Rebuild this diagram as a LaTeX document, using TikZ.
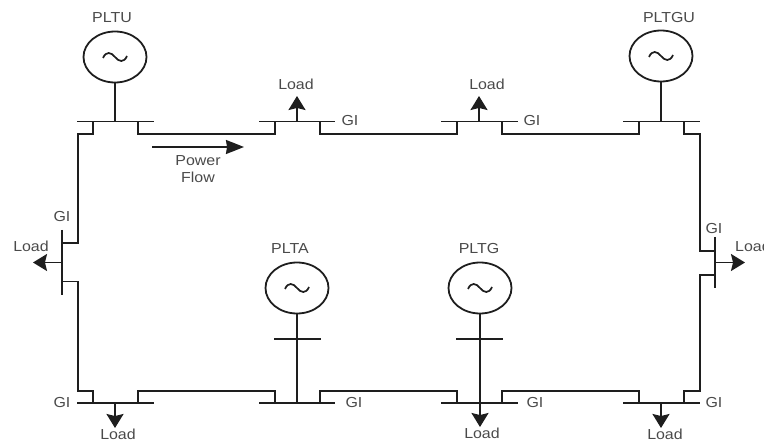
\documentclass[tikz,border=0pt]{standalone}
\usepackage{fontspec}
\setmainfont[FakeStretch=1.1]{Liberation Sans}
\usetikzlibrary{arrows.meta,shapes.geometric}
\definecolor{ink}{HTML}{1E1E1E}
\definecolor{lab}{HTML}{4A4A4A}
\newcommand{\acwave}[1]{\draw[wire,shift={(#1)}] (-12,1) .. controls (-9,-6) and (-4,-5) .. (0,0) .. controls (4,5) and (9,6) .. (12,-1);}
\tikzset{
  wire/.style={draw=ink,line width=1.7pt},
  bus/.style={draw=ink,line width=1.7pt},
  loadarrow/.style={wire,-{Stealth[length=14pt,width=17pt,inset=2pt]}},
  flowarrow/.style={wire,-{Stealth[length=18pt,width=14pt,inset=1pt]}},
  gen/.style={draw=ink,line width=1.8pt,ellipse,minimum width=63pt,minimum height=51pt,inner sep=0pt},
  lbl/.style={text=lab,font=\fontsize{14.5}{15}\selectfont,inner sep=0pt},
}
\begin{document}
\begin{tikzpicture}[x=1pt,y=-1pt]
\useasboundingbox (0,0) rectangle (764,441);
\clip (0,0) rectangle (764,441);

% generators
\node[gen] (gU)  at (115,57) {};
\node[gen] (gGU) at (661,56) {};
\node[gen] (gA)  at (297,288) {};
\node[gen] (gG)  at (480,288) {};
\acwave{gU} \acwave{gGU} \acwave{gA} \acwave{gG}

% top buses: left end, right end, left stub, right stub, centre
\foreach \n/\a/\b/\c/\d/\e in {t1/77/154/93/138/115, t2/259/335/275/320/297, t3/441/518/457/502/479, t4/623/700/639/684/661}{
  \coordinate (\n a) at (\a,121.5);
  \coordinate (\n b) at (\b,121.5);
  \coordinate (\n l) at (\c,121.5);
  \coordinate (\n r) at (\d,121.5);
  \coordinate (\n c) at (\e,121.5);
  \coordinate (\n L) at (\c,134);
  \coordinate (\n R) at (\d,134);
  \draw[bus] (\n a) -- (\n b);
}
% bottom buses
\foreach \n/\a/\b/\c/\d/\e in {b1/77/154/93/138/115, b2/259/335/275/320/297, b3/441/518/457/502/480, b4/623/700/639/684/661}{
  \coordinate (\n a) at (\a,403);
  \coordinate (\n b) at (\b,403);
  \coordinate (\n l) at (\c,403);
  \coordinate (\n r) at (\d,403);
  \coordinate (\n c) at (\e,403);
  \coordinate (\n L) at (\c,391);
  \coordinate (\n R) at (\d,391);
  \draw[bus] (\n a) -- (\n b);
}
% side buses
\coordinate (ls) at (62,230); \coordinate (le) at (62,295);
\coordinate (lu) at (62,243); \coordinate (ld) at (62,281.5); \coordinate (lc) at (62,262.5);
\coordinate (lU) at (78,243); \coordinate (lD) at (78,281.5);
\coordinate (rs) at (715,237); \coordinate (re) at (715,288);
\coordinate (ru) at (715,251); \coordinate (rd) at (715,275); \coordinate (rc) at (715,262.5);
\coordinate (rU) at (700,251); \coordinate (rD) at (700,275);
\draw[bus] (ls) -- (le);
\draw[bus] (rs) -- (re);

% lines between buses
\draw[wire] (t1l) -- (t1L) -| (lU) -- (lu);
\draw[wire] (t1r) -- (t1R) -- (t2L) -- (t2l);
\draw[wire] (t2r) -- (t2R) -- (t3L) -- (t3l);
\draw[wire] (t3r) -- (t3R) -- (t4L) -- (t4l);
\draw[wire] (t4r) -- (t4R) -| (rU) -- (ru);
\draw[wire] (ld) -- (lD) |- (b1L) -- (b1l);
\draw[wire] (b1r) -- (b1R) -- (b2L) -- (b2l);
\draw[wire] (b2r) -- (b2R) -- (b3L) -- (b3l);
\draw[wire] (b3r) -- (b3R) -- (b4L) -- (b4l);
\draw[wire] (rd) -- (rD) |- (b4R) -- (b4r);

% generator connections
\draw[wire] (gU.south) -- (t1c);
\draw[wire] (gGU.south) -- (t4c);
\draw[wire] (gA.south) -- (b2c);

% crossbars
\coordinate (xa1) at (274,339); \coordinate (xa2) at (321,339);
\coordinate (xg1) at (456,339); \coordinate (xg2) at (503,339);
\draw[bus] (xa1) -- (xa2);
\draw[bus] (xg1) -- (xg2);

% load arrows
\coordinate (a2) at (297,96); \coordinate (a3) at (479,96);
\coordinate (aL) at (33,262.5); \coordinate (aR) at (745,262.5);
\coordinate (ab1) at (115,428); \coordinate (ab3) at (480,427); \coordinate (ab4) at (661,428);
\draw[loadarrow] (t2c) -- (a2);
\draw[loadarrow] (t3c) -- (a3);
\draw[loadarrow] (lc) -- (aL);
\draw[loadarrow] (rc) -- (aR);
\draw[loadarrow] (b1c) -- (ab1);
\draw[loadarrow] (gG.south) -- (ab3);
\draw[loadarrow] (b4c) -- (ab4);

% power flow
\coordinate (pf1) at (152,147); \coordinate (pf2) at (244,147);
\draw[flowarrow] (pf1) -- (pf2);

% labels
\node[lbl] (lPLTU)  at (112,18) {PLTU};
\node[lbl] (lPLTGU) at (669,18) {PLTGU};
\node[lbl] (lPLTA)  at (290,249) {PLTA};
\node[lbl] (lPLTG)  at (479,249) {PLTG};
\node[lbl] (lp) at (198,160.5) {Power};
\node[lbl] (lf) at (198,177) {Flow};
\node[lbl] (ld2) at (296,84) {Load};
\node[lbl] (ld3) at (487,84) {Load};
\node[lbl] (ldL) at (31,246) {Load};
\node[lbl,anchor=west] (ldR) at (735,246) {Load};
\node[lbl] (ld1) at (118,434) {Load};
\node[lbl] (ldG) at (482,433) {Load};
\node[lbl] (ld4) at (665,434) {Load};
\node[lbl] (g1) at (350,121) {GI};
\node[lbl] (g2) at (532,121) {GI};
\node[lbl] (g3) at (62,217) {GI};
\node[lbl] (g4) at (714,229) {GI};
\node[lbl] (g5) at (62,403) {GI};
\node[lbl] (g6) at (354,403) {GI};
\node[lbl] (g7) at (535,403) {GI};
\node[lbl] (g8) at (714,403) {GI};
\end{tikzpicture}
\end{document}
